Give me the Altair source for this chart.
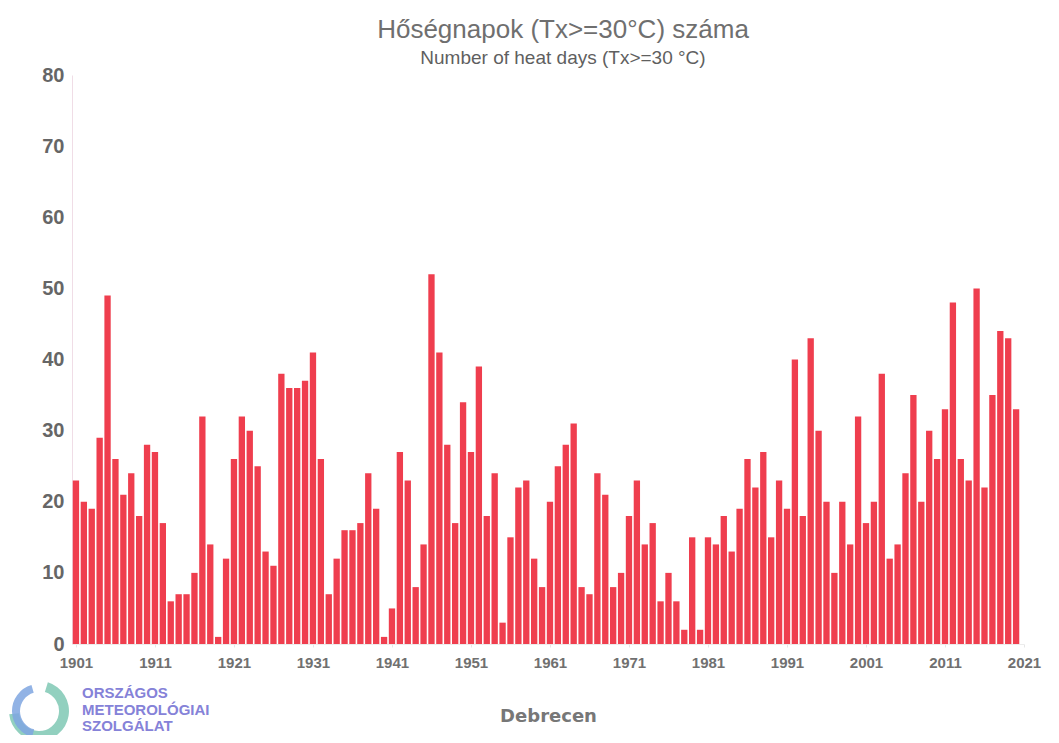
import altair as alt
import pandas as pd

years = list(range(1901, 2021))
heat_days = [
    23, 20, 19, 29, 49, 26, 21, 24, 18, 28,
    27, 17, 6, 7, 7, 10, 32, 14, 1, 12,
    26, 32, 30, 25, 13, 11, 38, 36, 36, 37,
    41, 26, 7, 12, 16, 16, 17, 24, 19, 1,
    5, 27, 23, 8, 14, 52, 41, 28, 17, 34,
    27, 39, 18, 24, 3, 15, 22, 23, 12, 8,
    20, 25, 28, 31, 8, 7, 24, 21, 8, 10,
    18, 23, 14, 17, 6, 10, 6, 2, 15, 2,
    15, 14, 18, 13, 19, 26, 22, 27, 15, 23,
    19, 40, 18, 43, 30, 20, 10, 20, 14, 32,
    17, 20, 38, 12, 14, 24, 35, 20, 30, 26,
    33, 48, 26, 23, 50, 22, 35, 44, 43, 33,
]
x_ticks = [1901, 1911, 1921, 1931, 1941, 1951, 1961, 1971, 1981, 1991, 2001, 2011, 2021]
y_ticks = [0, 10, 20, 30, 40, 50, 60, 70, 80]
title_hu = "Hőségnapok (Tx>=30°C) száma"
title_en = "Number of heat days (Tx>=30 °C)"
station = "Debrecen"
logo_text = "ORSZÁGOS\nMETEOROLÓGIAI\nSZOLGÁLAT"

df = pd.DataFrame({"year": years, "days": heat_days})

bars = (
    alt.Chart(df)
    .transform_calculate(x0="datum.year - 0.4", x1="datum.year + 0.4")
    .mark_bar(color="#EF3E4E")
    .encode(
        x=alt.X(
            "x0:Q",
            scale=alt.Scale(domain=[1900.5, 2021], nice=False, zero=False),
            axis=alt.Axis(
                values=x_ticks,
                format="d",
                title=station,
                labelFont="Liberation Sans",
                labelFontSize=15,
                labelFontWeight="bold",
                labelColor="#707070",
                labelPadding=8,
                labelFlush=False,
                tickSize=3,
                tickColor="#e6e6e6",
                domainColor="#ececec",
                grid=False,
                titleFont="DejaVu Sans",
                titleFontSize=18,
                titleFontWeight="bold",
                titleColor="#777777",
                titlePadding=37,
            ),
        ),
        x2="x1:Q",
        y=alt.Y(
            "days:Q",
            scale=alt.Scale(domain=[0, 80], nice=False),
            axis=alt.Axis(
                values=y_ticks,
                title=None,
                labelFont="Liberation Sans",
                labelFontSize=20,
                labelFontWeight="bold",
                labelColor="#666666",
                labelPadding=8,
                tickSize=0,
                domainColor="#f0dde6",
                grid=False,
            ),
        ),
        y2=alt.datum(0),
    )
)

logo = (
    alt.Chart(pd.DataFrame({"t": [logo_text]}))
    .mark_text(
        lineBreak="\n",
        lineHeight=16.5,
        align="left",
        baseline="top",
        font="Liberation Sans",
        fontSize=15,
        fontWeight="bold",
        color="#8582d8",
    )
    .encode(x=alt.value(10), y=alt.value(611), text="t:N")
)

swirl_outer = (
    alt.Chart(pd.DataFrame({"k": [1]}))
    .mark_arc(theta=0.3, theta2=4.6, radius=30, radius2=20, color="#86cbb8", opacity=0.9)
    .encode(x=alt.value(-33), y=alt.value(636))
)
swirl_inner = (
    alt.Chart(pd.DataFrame({"k": [1]}))
    .mark_arc(theta=3.4, theta2=6.0, radius=27, radius2=19, color="#7fa6e0", opacity=0.85)
    .encode(x=alt.value(-33), y=alt.value(636))
)

chart = (
    alt.layer(bars, swirl_outer, swirl_inner, logo)
    .properties(
        width=952,
        height=569,
        padding={"left": 64, "top": 67, "right": 27, "bottom": 91},
        autosize=alt.AutoSizeParams(type="none"),
        title=alt.TitleParams(
            text=title_hu,
            subtitle=title_en,
            anchor="middle",
            dx=15,
            offset=-3,
            font="Liberation Sans",
            fontSize=26,
            fontWeight="normal",
            color="#6f6f6f",
            subtitleFont="Liberation Sans",
            subtitleFontSize=19,
            subtitleColor="#5f5f5f",
            subtitlePadding=6,
        ),
    )
    .configure_view(stroke=None)
)

chart.save("out.html", embed_options={"renderer": "svg", "actions": False})
